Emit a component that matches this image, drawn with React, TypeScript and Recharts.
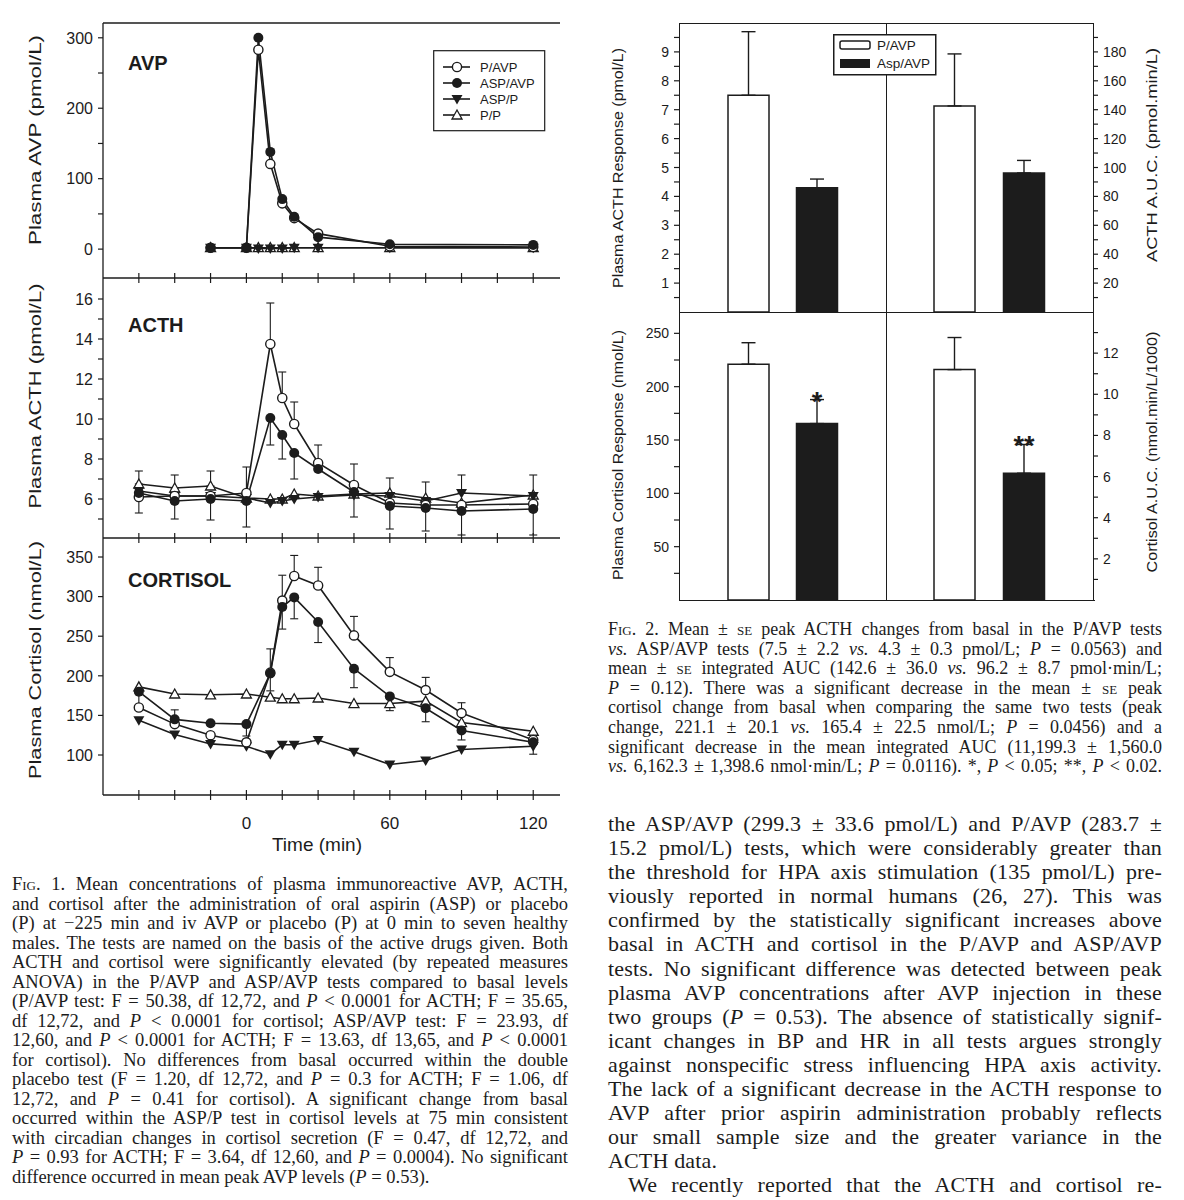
import React from "react";
import {
  LineChart,
  Line,
  XAxis,
  YAxis,
  ErrorBar,
  ReferenceLine,
  BarChart,
  Bar,
  Cell,
  LabelList,
} from "recharts";

// ---------- Fig. 1: time courses ----------
const avpTimes = [-15, 0, 5, 10, 15, 20, 30, 60, 120];
const avpPAvp = [2, 2, 283, 121, 65, 44, 22, 4, 3];
const avpAspAvp = [2, 2, 300, 138, 71, 46, 17, 7, 6];
const avpAspP = [2, 2, 1, 1, 1, 2, 2, 2, 2];
const avpPP = [2, 2, 2, 2, 2, 2, 2, 2, 2];

const sampleTimes = [-45, -30, -15, 0, 10, 15, 20, 30, 45, 60, 75, 90, 120];

const acthPAvp = [6.1, 6.15, 6.15, 6.3, 13.75, 11.05, 9.75, 7.8, 6.7, 5.8, 5.7, 5.7, 5.75];
const acthAspAvp = [6.3, 5.9, 6.0, 5.9, 10.05, 9.2, 8.3, 7.5, 6.35, 5.65, 5.55, 5.4, 5.5];
const acthAspP = [6.4, 6.15, 6.15, 6.05, 5.8, 5.9, 6.0, 6.1, 6.2, 6.15, 5.9, 6.3, 6.15];
const acthPP = [6.75, 6.55, 6.65, 6.05, 6.0, 6.0, 6.25, 6.15, 6.25, 6.3, 6.05, 5.8, 6.2];
// SE bars are only drawn on one side in the figure (null = no bar)
const acthPAvpSeUp = [null, null, null, 1.3, 2.05, 1.3, 1.1, 0.9, 1.05, null, null, null, null];
const acthAspAvpSeDown = [1.0, 0.9, 1.05, 1.3, 1.35, 1.2, 1.3, null, 1.25, 1.15, 1.15, 1.2, 1.3];
const acthAspPSeUp = [null, null, null, null, null, null, null, null, null, null, null, 0.9, null];
const acthPPSeUp = [0.65, 0.65, 0.75, null, null, null, null, null, null, 0.75, 0.8, null, 1.0];

const cortPAvp = [160, 139, 125, 116, 204, 295, 326, 314, 251, 205, 182, 153, 119];
const cortAspAvp = [180, 145, 140, 139, 203, 287, 299, 268, 209, 174, 159, 131, 116];
const cortAspP = [144, 126, 114, 111, 101, 113, 113, 119, 104, 88, 93, 107, 111];
const cortPP = [186, 177, 176, 177, 173, 171, 171, 172, 165, 165, 168, 141, 130];
const cortPAvpSeUp = [null, null, null, null, 30, 32, 26, 23, 24, 18, 16, 13, null];
const cortAspAvpSeDown = [20, null, null, 15, 22, 28, 27, 26, 24, null, 17, 12, 15];
const cortAspAvpSeUp = [null, 12, null, null, null, null, null, null, null, null, null, null, null];
const cortPPSeDown = [null, null, null, null, null, null, null, null, null, 9, null, null, null];

const seriesNames = ["P/AVP", "ASP/AVP", "ASP/P", "P/P"];

const timeTicks = [-45, -30, -15, 0, 15, 30, 45, 60, 75, 90, 105, 120];
const timeLabels = [0, 60, 120];
const avpTicks = [0, 50, 100, 150, 200, 250, 300];
const avpLabels = [0, 100, 200, 300];
const acthTicks = [5, 6, 7, 8, 9, 10, 11, 12, 13, 14, 15, 16];
const acthLabels = [6, 8, 10, 12, 14, 16];
const cortTicks = [100, 150, 200, 250, 300, 350];

// ---------- Fig. 2: responses (mean, SE) ----------
const groups = ["P/AVP", "Asp/AVP"];
const acthPeak = [7.5, 4.3];
const acthPeakSe = [2.2, 0.3];
const acthAuc = [142.6, 96.2];
const acthAucSe = [36.0, 8.7];
const cortPeak = [221.1, 165.4];
const cortPeakSe = [20.1, 22.5];
const cortAuc = [11.1993, 6.1623];
const cortAucSe = [1.56, 1.3986];
const cortPeakSig = ["", "*"];
const cortAucSig = ["", "**"];

const acthPeakTicks = [0.5, 1, 1.5, 2, 2.5, 3, 3.5, 4, 4.5, 5, 5.5, 6, 6.5, 7, 7.5, 8, 8.5, 9, 9.5];
const acthPeakLabels = [1, 2, 3, 4, 5, 6, 7, 8, 9];
const acthAucTicks = [10, 20, 30, 40, 50, 60, 70, 80, 90, 100, 110, 120, 130, 140, 150, 160, 170, 180, 190];
const acthAucLabels = [20, 40, 60, 80, 100, 120, 140, 160, 180];
const cortPeakTicks = [25, 50, 75, 100, 125, 150, 175, 200, 225, 250];
const cortPeakLabels = [50, 100, 150, 200, 250];
const cortAucTicks = [1, 2, 3, 4, 5, 6, 7, 8, 9, 10, 11, 12, 13];
const cortAucLabels = [2, 4, 6, 8, 10, 12];

const INK = "#1c1c1c";
const SANS = '"Liberation Sans", Arial, Helvetica, sans-serif';
const SERIF = '"Liberation Serif", "Times New Roman", serif';

const se = (down: number | null, up: number | null) =>
  down == null && up == null ? null : [down ?? 0, up ?? 0];

const avpRows = avpTimes.map((t, i) => ({
  t,
  pAvp: avpPAvp[i],
  aspAvp: avpAspAvp[i],
  aspP: avpAspP[i],
  pP: avpPP[i],
}));

const acthRows = sampleTimes.map((t, i) => ({
  t,
  pAvp: acthPAvp[i],
  aspAvp: acthAspAvp[i],
  aspP: acthAspP[i],
  pP: acthPP[i],
  e_pAvp: se(null, acthPAvpSeUp[i]),
  e_aspAvp: se(acthAspAvpSeDown[i], null),
  e_aspP: se(null, acthAspPSeUp[i]),
  e_pP: se(null, acthPPSeUp[i]),
}));

const cortRows = sampleTimes.map((t, i) => ({
  t,
  pAvp: cortPAvp[i],
  aspAvp: cortAspAvp[i],
  aspP: cortAspP[i],
  pP: cortPP[i],
  e_pAvp: se(null, cortPAvpSeUp[i]),
  e_aspAvp: se(cortAspAvpSeDown[i], cortAspAvpSeUp[i]),
  e_pP: se(cortPPSeDown[i], null),
}));

// marker shapes
function marker(kind: string, cx: number, cy: number, key?: any) {
  if (kind === "open")
    return <circle key={key} cx={cx} cy={cy} r={4.6} fill="#fff" stroke={INK} strokeWidth={1.4} />;
  if (kind === "filled") return <circle key={key} cx={cx} cy={cy} r={5} fill={INK} />;
  if (kind === "down")
    return (
      <path key={key} d={`M${cx - 5.5},${cy - 4} L${cx + 5.5},${cy - 4} L${cx},${cy + 5.5} Z`} fill={INK} />
    );
  return (
    <path
      key={key}
      d={`M${cx - 5},${cy + 4} L${cx + 5},${cy + 4} L${cx},${cy - 5} Z`}
      fill="#fff"
      stroke={INK}
      strokeWidth={1.3}
    />
  );
}

const dotOf = (kind: string) => (p: any) =>
  p.cx == null ? <g key={`n-${p.index}`} /> : marker(kind, p.cx, p.cy, `d-${p.index}`);

// drawing order: P/P, ASP/P, P/AVP, ASP/AVP
const SERIES = [
  { key: "pP", kind: "up" },
  { key: "aspP", kind: "down" },
  { key: "pAvp", kind: "open" },
  { key: "aspAvp", kind: "filled" },
];

const yTick = (labels: number[], fontSize: number, side: "left" | "right" = "left") => (p: any) => {
  const v = p.payload.value;
  const dir = side === "left" ? -1 : 1;
  return (
    <g>
      <line x1={p.x} x2={p.x + dir * 5} y1={p.y} y2={p.y} stroke={INK} strokeWidth={1.2} />
      {labels.includes(v) && (
        <text
          x={p.x + dir * 10}
          y={p.y}
          dy="0.36em"
          textAnchor={side === "left" ? "end" : "start"}
          fontSize={fontSize}
          fontFamily={SANS}
          fill={INK}
        >
          {v}
        </text>
      )}
    </g>
  );
};

const xTick = (labels: number[]) => (p: any) => {
  const v = p.payload.value;
  return (
    <g>
      <line x1={p.x} x2={p.x} y1={p.y - 5} y2={p.y + 5} stroke={INK} strokeWidth={1.2} />
      {labels.includes(v) && (
        <text x={p.x} y={p.y + 28} dy="0.36em" textAnchor="middle" fontSize={17} fontFamily={SANS} fill={INK}>
          {v}
        </text>
      )}
    </g>
  );
};

// rotated axis title centred at a fixed point of the chart
const vTitle = (text: string, x: number, cy: number, len: number, fontSize: number) => () => (
  <text
    x={x}
    y={cy}
    transform={`rotate(-90 ${x} ${cy})`}
    textAnchor="middle"
    dy="0.36em"
    fontSize={fontSize}
    fontFamily={SANS}
    fill={INK}
    textLength={len}
    lengthAdjust="spacingAndGlyphs"
  >
    {text}
  </text>
);

type PanelProps = {
  rows: any[];
  top: number;
  marginTop: number;
  plotH: number;
  xAxisH: number;
  yDomain: [number, number];
  yTicks: number[];
  yLabels: number[];
  xLabels: number[];
  title: string;
  titleCy: number;
  titleLen: number;
  topBorder?: boolean;
  xTitle?: boolean;
};

function TimePanel(props: PanelProps) {
  const h = props.marginTop + props.plotH + props.xAxisH;
  return (
    <div style={{ position: "absolute", left: 0, top: props.top }}>
      <LineChart
        width={584}
        height={h}
        data={props.rows}
        margin={{ top: props.marginTop, right: 24, bottom: 0, left: 43 }}
      >
        <XAxis
          type="number"
          dataKey="t"
          domain={[-60, 131.2]}
          ticks={timeTicks}
          interval={0}
          allowDataOverflow
          height={props.xAxisH}
          tickSize={0}
          tickMargin={0}
          tickLine={false}
          axisLine={{ stroke: INK, strokeWidth: 1.3 }}
          tick={xTick(props.xLabels)}
          label={
            props.xTitle
              ? {
                  content: () => (
                    <text x={317} y={h - 6} textAnchor="middle" fontSize={19} fontFamily={SANS} fill={INK}>
                      Time (min)
                    </text>
                  ),
                }
              : undefined
          }
        />
        <YAxis
          type="number"
          domain={props.yDomain}
          ticks={props.yTicks}
          interval={0}
          allowDataOverflow
          width={60}
          tickSize={0}
          tickMargin={0}
          tickLine={false}
          axisLine={{ stroke: INK, strokeWidth: 1.3 }}
          tick={yTick(props.yLabels, 16)}
          label={{ content: vTitle(props.title, 35, props.titleCy - props.top, props.titleLen, 17) }}
        />
        {props.topBorder && <ReferenceLine y={props.yDomain[1]} stroke={INK} strokeWidth={1.3} />}
        {SERIES.map((s) => (
          <Line
            key={s.key}
            type="linear"
            dataKey={s.key}
            stroke={INK}
            strokeWidth={1.6}
            dot={dotOf(s.kind)}
            activeDot={false}
            isAnimationActive={false}
          >
            {props.rows.some((r) => r["e_" + s.key]) && (
              <ErrorBar dataKey={"e_" + s.key} direction="y" width={4} stroke={INK} strokeWidth={1.1} />
            )}
          </Line>
        ))}
      </LineChart>
    </div>
  );
}

function PanelLabel({ text, left, cy }: { text: string; left: number; cy: number }) {
  return (
    <div
      style={{
        position: "absolute",
        left,
        top: cy - 10,
        fontFamily: SANS,
        fontWeight: "bold",
        fontSize: 20,
        lineHeight: "20px",
        color: INK,
      }}
    >
      {text}
    </div>
  );
}

function Fig1Legend() {
  const kinds = ["open", "filled", "down", "up"];
  return (
    <svg style={{ position: "absolute", left: 433, top: 50 }} width={113} height={82}>
      <rect x={0.7} y={0.7} width={111} height={80} fill="#fff" stroke={INK} strokeWidth={1.2} />
      {seriesNames.map((name, i) => {
        const y = 17 + i * 16;
        return (
          <g key={name}>
            <line x1={10} x2={37} y1={y} y2={y} stroke={INK} strokeWidth={1.6} />
            {marker(kinds[i], 24, y)}
            <text x={47} y={y} dy="0.36em" fontSize={13} fontFamily={SANS} fill={INK}>
              {name}
            </text>
          </g>
        );
      })}
    </svg>
  );
}

function Fig1() {
  return (
    <>
      <TimePanel
        rows={avpRows}
        top={22}
        marginTop={1}
        plotH={255}
        xAxisH={5}
        yDomain={[-41, 321]}
        yTicks={avpTicks}
        yLabels={avpLabels}
        xLabels={[]}
        title="Plasma AVP (pmol/L)"
        titleCy={140}
        titleLen={210}
        topBorder
      />
      <TimePanel
        rows={acthRows}
        top={278}
        marginTop={0}
        plotH={260}
        xAxisH={5}
        yDomain={[4.05, 17.05]}
        yTicks={acthTicks}
        yLabels={acthLabels}
        xLabels={[]}
        title="Plasma ACTH (pmol/L)"
        titleCy={396}
        titleLen={225}
      />
      <TimePanel
        rows={cortRows}
        top={538}
        marginTop={0}
        plotH={257}
        xAxisH={62}
        yDomain={[49.5, 374]}
        yTicks={cortTicks}
        yLabels={cortTicks}
        xLabels={timeLabels}
        title="Plasma Cortisol (nmol/L)"
        titleCy={660}
        titleLen={238}
        xTitle
      />
      <PanelLabel text="AVP" left={128} cy={63} />
      <PanelLabel text="ACTH" left={128} cy={325} />
      <PanelLabel text="CORTISOL" left={128} cy={580} />
      <Fig1Legend />
    </>
  );
}

// ---------- Fig. 2 ----------
type BarPanelProps = {
  left: number;
  top: number;
  height: number;
  side: "left" | "right";
  values: number[];
  errs: number[];
  sig?: string[];
  domain: [number, number];
  ticks: number[];
  labels: number[];
  pad: number;
  title: string;
  titleCy: number;
  titleLen: number;
};

function BarPanel(p: BarPanelProps) {
  const rows = groups.map((g, i) => ({ g, v: p.values[i], e: [0, p.errs[i]] }));
  const axisW = p.side === "left" ? 79 : 91;
  const width = 207 + axisW;
  const titleX = p.side === "left" ? 18 : 266;
  const starContent = (lp: any) => {
    const s = p.sig ? p.sig[lp.index] : "";
    if (!s) return null;
    const errTop = lp.y - (lp.height * p.errs[lp.index]) / lp.value;
    return (
      <text
        x={lp.x + lp.width / 2}
        y={errTop + 11}
        textAnchor="middle"
        fontSize={27}
        fontWeight="bold"
        fontFamily={SANS}
        fill={INK}
      >
        {s}
      </text>
    );
  };
  return (
    <div style={{ position: "absolute", left: p.left, top: p.top }}>
      <BarChart width={width} height={p.height} data={rows} margin={{ top: 0, right: 0, bottom: 0, left: 0 }}>
        <XAxis dataKey="g" type="category" hide padding={{ left: p.pad, right: p.pad }} />
        <YAxis
          type="number"
          orientation={p.side}
          domain={p.domain}
          ticks={p.ticks}
          interval={0}
          allowDataOverflow
          width={axisW}
          tickSize={0}
          tickMargin={0}
          tickLine={false}
          axisLine={false}
          tick={yTick(p.labels, 14, p.side)}
          label={{ content: vTitle(p.title, titleX, p.titleCy - p.top, p.titleLen, 15) }}
        />
        <Bar dataKey="v" barSize={41} stroke={INK} strokeWidth={1.5} isAnimationActive={false}>
          {rows.map((r, i) => (
            <Cell key={r.g} fill={i === 0 ? "#fff" : INK} />
          ))}
          <ErrorBar dataKey="e" direction="y" width={7} stroke={INK} strokeWidth={1.4} />
          {p.sig && <LabelList dataKey="v" content={starContent} />}
        </Bar>
      </BarChart>
    </div>
  );
}

function Fig2() {
  const line = (style: React.CSSProperties) => (
    <div style={{ position: "absolute", background: INK, ...style }} />
  );
  return (
    <>
      {line({ left: 679, top: 22.5, width: 414, height: 1.5 })}
      {line({ left: 679, top: 599.5, width: 415.5, height: 1.5 })}
      {line({ left: 678.5, top: 22.5, width: 1.5, height: 578 })}
      {line({ left: 1092.5, top: 22.5, width: 1.5, height: 578 })}
      {line({ left: 885.5, top: 22.5, width: 1.5, height: 578 })}
      {line({ left: 679, top: 311.5, width: 414, height: 1.5 })}
      <BarPanel
        left={600}
        top={23}
        height={289}
        side="left"
        values={acthPeak}
        errs={acthPeakSe}
        domain={[0, 10]}
        ticks={acthPeakTicks}
        labels={acthPeakLabels}
        pad={35}
        title="Plasma ACTH Response (pmol/L)"
        titleCy={168}
        titleLen={240}
      />
      <BarPanel
        left={886}
        top={23}
        height={289}
        side="right"
        values={acthAuc}
        errs={acthAucSe}
        domain={[0, 200]}
        ticks={acthAucTicks}
        labels={acthAucLabels}
        pad={34}
        title="ACTH A.U.C. (pmol.min/L)"
        titleCy={155}
        titleLen={214}
      />
      <BarPanel
        left={600}
        top={312}
        height={288}
        side="left"
        values={cortPeak}
        errs={cortPeakSe}
        sig={cortPeakSig}
        domain={[0, 270]}
        ticks={cortPeakTicks}
        labels={cortPeakLabels}
        pad={35}
        title="Plasma Cortisol Response (nmol/L)"
        titleCy={455}
        titleLen={250}
      />
      <BarPanel
        left={886}
        top={312}
        height={288}
        side="right"
        values={cortAuc}
        errs={cortAucSe}
        sig={cortAucSig}
        domain={[0, 14]}
        ticks={cortAucTicks}
        labels={cortAucLabels}
        pad={34}
        title="Cortisol A.U.C. (nmol.min/L/1000)"
        titleCy={452}
        titleLen={241}
      />
      <svg style={{ position: "absolute", left: 833, top: 34 }} width={104} height={42}>
        <rect x={0.75} y={0.75} width={102} height={40} fill="#fff" stroke={INK} strokeWidth={1.5} />
        <rect x={7} y={7} width={30} height={8} rx={2} fill="#fff" stroke={INK} strokeWidth={1.5} />
        <text x={44} y={11} dy="0.36em" fontSize={13.5} fontFamily={SANS} fill={INK}>
          P/AVP
        </text>
        <rect x={7} y={25} width={30} height={9} fill={INK} />
        <text x={44} y={29.5} dy="0.36em" fontSize={13.5} fontFamily={SANS} fill={INK}>
          Asp/AVP
        </text>
      </svg>
    </>
  );
}

// ---------- text ----------
const SC = ({ children }: { children: React.ReactNode }) => (
  <span style={{ fontVariant: "small-caps" }}>{children}</span>
);

type Ln = { c: React.ReactNode; j?: boolean; indent?: number };

function TextBlock(props: {
  left: number;
  top: number;
  width: number;
  fontSize: number;
  lineHeight: number;
  letterSpacing?: number;
  lines: Ln[];
}) {
  return (
    <div
      style={{
        position: "absolute",
        left: props.left,
        top: props.top,
        width: props.width,
        fontFamily: SERIF,
        fontSize: props.fontSize,
        letterSpacing: props.letterSpacing ?? 0,
        lineHeight: `${props.lineHeight}px`,
        color: INK,
      }}
    >
      {props.lines.map((l, i) => {
        const just = l.j !== false;
        return (
          <div
            key={i}
            style={{
              height: props.lineHeight,
              textAlign: just ? "justify" : "left",
              textAlignLast: just ? "justify" : "left",
              paddingLeft: l.indent ?? 0,
            }}
          >
            {l.c}
          </div>
        );
      })}
    </div>
  );
}

const fig1Caption: Ln[] = [
  { c: <><SC>Fig</SC>. 1. Mean concentrations of plasma immunoreactive AVP, ACTH,</> },
  { c: "and cortisol after the administration of oral aspirin (ASP) or placebo" },
  { c: "(P) at \u2212225 min and iv AVP or placebo (P) at 0 min to seven healthy" },
  { c: "males. The tests are named on the basis of the active drugs given. Both" },
  { c: "ACTH and cortisol were significantly elevated (by repeated measures" },
  { c: "ANOVA) in the P/AVP and ASP/AVP tests compared to basal levels" },
  { c: <>(P/AVP test: F = 50.38, df 12,72, and <i>P</i> &lt; 0.0001 for ACTH; F = 35.65,</> },
  { c: <>df 12,72, and <i>P</i> &lt; 0.0001 for cortisol; ASP/AVP test: F = 23.93, df</> },
  { c: <>12,60, and <i>P</i> &lt; 0.0001 for ACTH; F = 13.63, df 13,65, and <i>P</i> &lt; 0.0001</> },
  { c: "for cortisol). No differences from basal occurred within the double" },
  { c: <>placebo test (F = 1.20, df 12,72, and <i>P</i> = 0.3 for ACTH; F = 1.06, df</> },
  { c: <>12,72, and <i>P</i> = 0.41 for cortisol). A significant change from basal</> },
  { c: "occurred within the ASP/P test in cortisol levels at 75 min consistent" },
  { c: "with circadian changes in cortisol secretion (F = 0.47, df 12,72, and" },
  { c: <><i>P</i> = 0.93 for ACTH; F = 3.64, df 12,60, and <i>P</i> = 0.0004). No significant</> },
  { c: <>difference occurred in mean peak AVP levels (<i>P</i> = 0.53).</>, j: false },
];

const fig2Caption: Ln[] = [
  { c: <><SC>Fig</SC>. 2. Mean ± <SC>se</SC> peak ACTH changes from basal in the P/AVP tests</> },
  { c: <><i>vs.</i> ASP/AVP tests (7.5 ± 2.2 <i>vs.</i> 4.3 ± 0.3 pmol/L; <i>P</i> = 0.0563) and</> },
  { c: <>mean ± <SC>se</SC> integrated AUC (142.6 ± 36.0 <i>vs.</i> 96.2 ± 8.7 pmol·min/L;</> },
  { c: <><i>P</i> = 0.12). There was a significant decrease in the mean ± <SC>se</SC> peak</> },
  { c: "cortisol change from basal when comparing the same two tests (peak" },
  { c: <>change, 221.1 ± 20.1 <i>vs.</i> 165.4 ± 22.5 nmol/L; <i>P</i> = 0.0456) and a</> },
  { c: "significant decrease in the mean integrated AUC (11,199.3 ± 1,560.0" },
  { c: <><i>vs.</i> 6,162.3 ± 1,398.6 nmol·min/L; <i>P</i> = 0.0116). *, <i>P</i> &lt; 0.05; **, <i>P</i> &lt; 0.02.</> },
];

const bodyText: Ln[] = [
  { c: "the ASP/AVP (299.3 ± 33.6 pmol/L) and P/AVP (283.7 ±" },
  { c: "15.2 pmol/L) tests, which were considerably greater than" },
  { c: "the threshold for HPA axis stimulation (135 pmol/L) pre-" },
  { c: "viously reported in normal humans (26, 27). This was" },
  { c: "confirmed by the statistically significant increases above" },
  { c: "basal in ACTH and cortisol in the P/AVP and ASP/AVP" },
  { c: "tests. No significant difference was detected between peak" },
  { c: "plasma AVP concentrations after AVP injection in these" },
  { c: <>two groups (<i>P</i> = 0.53). The absence of statistically signif-</> },
  { c: "icant changes in BP and HR in all tests argues strongly" },
  { c: "against nonspecific stress influencing HPA axis activity." },
  { c: "The lack of a significant decrease in the ACTH response to" },
  { c: "AVP after prior aspirin administration probably reflects" },
  { c: "our small sample size and the greater variance in the" },
  { c: "ACTH data.", j: false },
  { c: "We recently reported that the ACTH and cortisol re-", indent: 20 },
];

export default function App() {
  return (
    <div
      style={{
        position: "absolute",
        left: 0,
        top: 0,
        width: 1184,
        height: 1200,
        background: "#fff",
        overflow: "hidden",
      }}
    >
      <Fig1 />
      <Fig2 />
      <TextBlock left={12} top={875} width={556} fontSize={18.5} lineHeight={19.5} lines={fig1Caption} />
      <TextBlock left={608} top={620} width={554} fontSize={18} lineHeight={19.6} lines={fig2Caption} />
      <TextBlock
        left={608}
        top={812}
        width={554}
        fontSize={22}
        letterSpacing={0.15}
        lineHeight={24.1}
        lines={bodyText}
      />
    </div>
  );
}
